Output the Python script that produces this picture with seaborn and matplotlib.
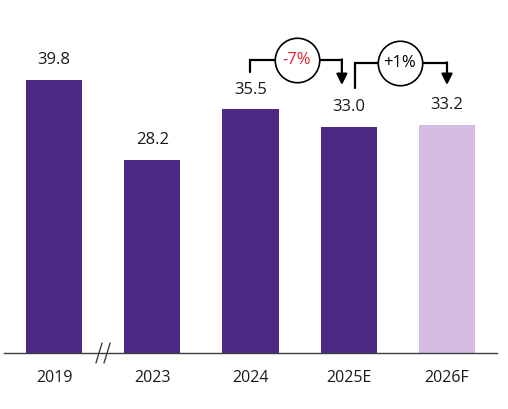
import matplotlib
matplotlib.use("Agg")
import matplotlib.pyplot as plt
import seaborn as sns
import pandas as pd

years = ["2019", "2023", "2024", "2025E", "2026F"]
values = [39.8, 28.2, 35.5, 33.0, 33.2]
bar_colors = ["#4B2882", "#4B2882", "#4B2882", "#4B2882", "#D5BCE3"]
changes = ["-7%", "+1%"]
change_colors = ["#E8202A", "#000000"]

sns.set_theme(style="white")
plt.rcParams["font.family"] = ["Open Sans", "DejaVu Sans"]

W, H = 508, 409
fig = plt.figure(figsize=(W / 100, H / 100), dpi=100)
ax_left, ax_right = 4, 497
ax_bottom_px = 353
ymax = 50
px_per_unit = 6.86
ax_h_px = ymax * px_per_unit
ax = fig.add_axes([ax_left / W, (H - ax_bottom_px) / H, (ax_right - ax_left) / W, ax_h_px / H])

df = pd.DataFrame({"year": years, "value": values})
sns.barplot(data=df, x="year", y="value", hue="year", palette=bar_colors,
            width=0.57, legend=False, ax=ax, saturation=1, linewidth=0)

ax.set_xlim(-0.509, 4.509)
ax.set_ylim(0, ymax)
for s in ["top", "right", "left"]:
    ax.spines[s].set_visible(False)
ax.spines["bottom"].set_color("#404040")
ax.spines["bottom"].set_linewidth(1.0)
ax.set_yticks([])
ax.set_xlabel("")
ax.set_ylabel("")
ax.tick_params(axis="x", length=0, pad=12, labelsize=11.5, labelcolor="#1a1a1a")

for i, v in enumerate(values):
    ax.text(i, v + 2.9, f"{v:.1f}", ha="center", va="center", fontsize=12, color="#1a1a1a")

# axis break marks
for x0 in [0.427, 0.509]:
    ax.plot([x0, x0 + 0.062], [-1.46, 1.46], color="#404040", lw=1.0, clip_on=False)

# change annotations
def bracket(x_start, y_start, y_top, x_circle, x_end, y_tip, label, color):
    ax.plot([x_start, x_start, x_end], [y_start, y_top, y_top], color="black", lw=1.6,
            solid_joinstyle="miter", clip_on=False)
    ax.annotate("", xy=(x_end, y_tip), xytext=(x_end, y_top + 0.1),
                arrowprops=dict(arrowstyle="-|>", color="black", lw=1.6, mutation_scale=16,
                                shrinkA=0, shrinkB=0), annotation_clip=False)
    ax.plot([x_circle], [y_top], marker="o", markersize=32, mfc="white", mec="black",
            mew=1.2, clip_on=False, zorder=5)
    ax.text(x_circle, y_top, label, ha="center", va="center", fontsize=12, color=color, zorder=6)

bracket(2.0, 40.96, 42.7, 2.473, 2.93, 39.07, changes[0], change_colors[0])
bracket(3.064, 38.63, 42.27, 3.52, 4.0, 39.07, changes[1], change_colors[1])

fig.savefig("out.png", dpi=100)
